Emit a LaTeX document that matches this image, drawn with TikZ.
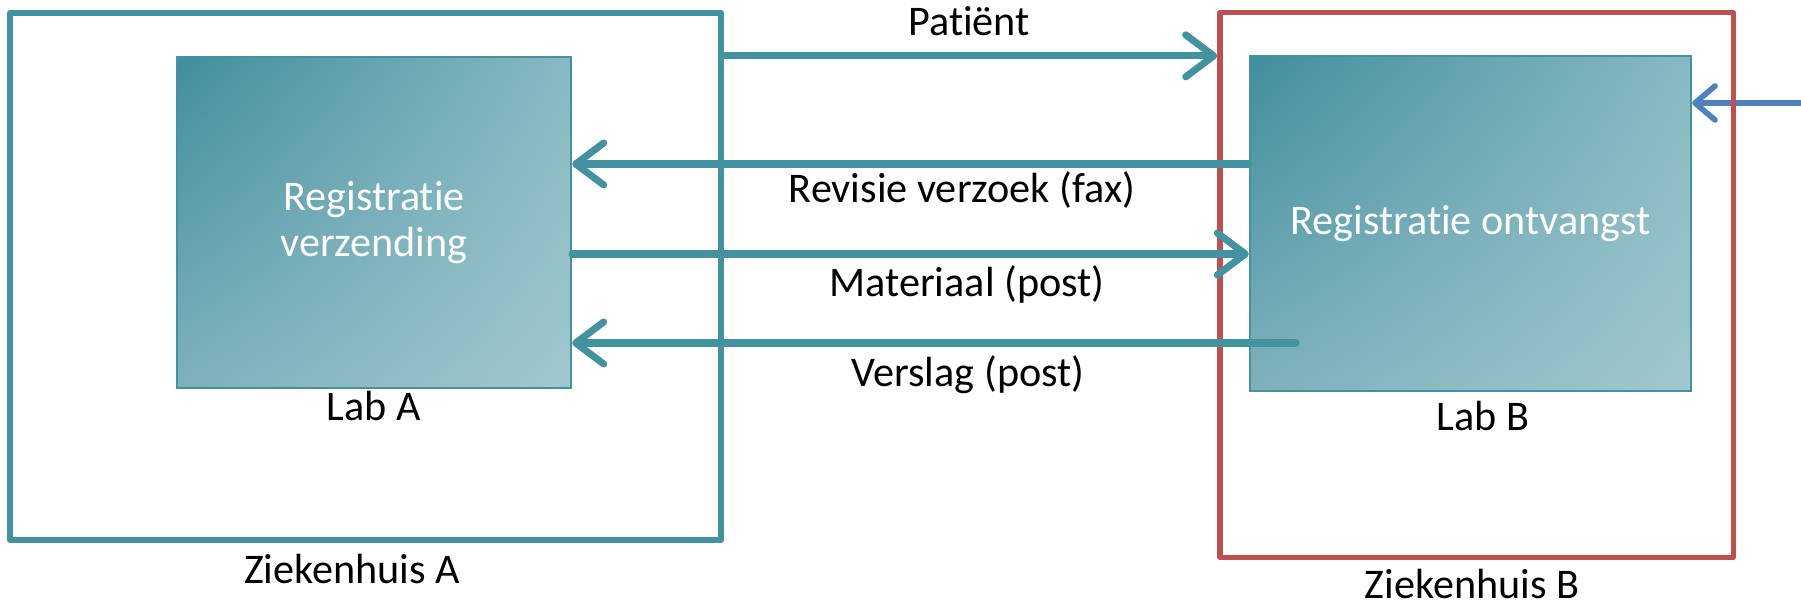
\documentclass[tikz,border=0pt]{standalone}
\usepackage{fontspec}
\setmainfont{Carlito}[Ligatures=NoCommon]
\usetikzlibrary{arrows.meta,positioning,shadings}

\definecolor{tealline}{RGB}{67,146,160}
\definecolor{tealdark}{RGB}{65,142,157}
\definecolor{tealmidA}{RGB}{136,185,194}
\definecolor{tealmidB}{RGB}{126,177,188}
\definecolor{teallight}{RGB}{160,200,207}
\definecolor{hospred}{RGB}{192,80,77}
\definecolor{extblue}{RGB}{79,129,189}

\begin{document}
\begin{tikzpicture}[x=0.01cm, y=-0.01cm, font=\fontsize{12}{13}\selectfont,
  hospital/.style={draw, line width=1.6pt, line join=round, inner sep=0pt},
  labbox/.style={draw=tealline, line width=0.6pt, inner sep=0pt, text=white, align=center,
    upper left=tealdark, upper right=tealmidA, lower left=tealmidB, lower right=teallight},
  flow/.style={draw=tealline, line width=2pt, line cap=round,
    -{Straight Barb[length=0.28cm, width=0.42cm, line cap=round, line join=round]}},
  caption/.style={anchor=base, inner sep=0pt}]
\useasboundingbox (0,0) rectangle (1801,604);

% ziekenhuizen en labs
\node[hospital, draw=tealline, minimum width=7.11cm, minimum height=5.27cm] (zhA) at (365.5,276.5) {};
\node[labbox, minimum width=3.94cm, minimum height=3.31cm] (labA) at (374,222.5) {Registratie\\verzending};
\node[labbox, minimum width=4.41cm, minimum height=3.35cm] (labB) at (1470.5,223.5) {Registratie ontvangst};
\coordinate (extern) at (1801,103);
\draw[extblue, line width=1.6pt, line cap=round, -{Straight Barb[length=0.2cm, width=0.34cm, line cap=round, line join=round]}] (extern) -- (labB.east |- extern);
\node[hospital, draw=hospred, line width=1.5pt, minimum width=5.13cm, minimum height=5.44cm] (zhB) at (1476.5,285) {};

\node[caption] (labAtxt) at (labA.south |- 0,421) {Lab A};
\node[caption] (labBtxt) at (1483,431) {Lab B};
\node[caption] (zhAtxt) at (352,583) {Ziekenhuis A};
\node[caption] (zhBtxt) at (1472,598) {Ziekenhuis B};

% stromen
\coordinate (verslagstart) at (1296,343);
\draw[flow] (zhA.east |- labA.north) -- (zhB.west |- labA.north);
\draw[flow] (labB.west |- 0,164) -- (labA.east |- 0,164);
\draw[flow] (labA.east |- 0,254) -- (labB.west |- 0,254);
\draw[flow] (verslagstart) -- (labA.east |- verslagstart);

\node[caption] (patient) at (969,36) {Patiënt};
\node[caption] (revisie) at (962,203) {Revisie verzoek (fax)};
\node[caption] (materiaal) at (967,297) {Materiaal (post)};
\node[caption] (verslag) at (968,387) {Verslag (post)};
\end{tikzpicture}
\end{document}
